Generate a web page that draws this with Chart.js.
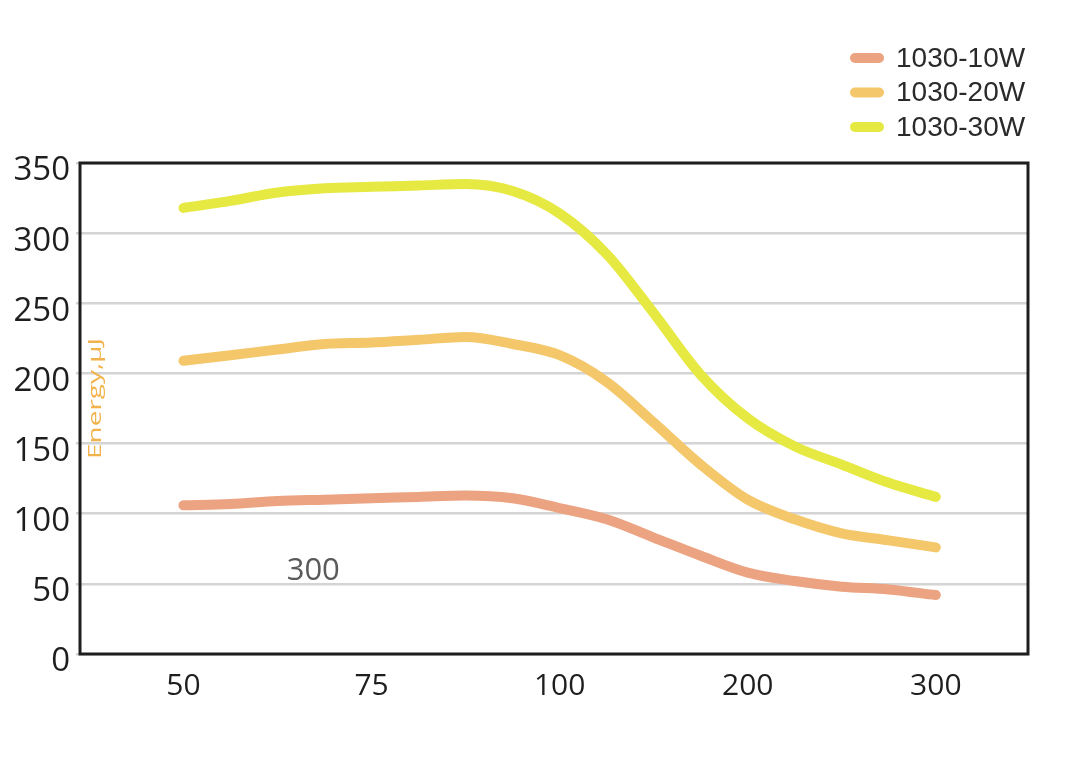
<!DOCTYPE html>
<html>
<head>
<meta charset="utf-8">
<script src="https://cdn.jsdelivr.net/npm/chart.js@4"></script>
<style>
  body { margin: 0; background: #fff; }
  #wrap { width: 1071px; height: 771px; position: relative; }
</style>
</head>
<body>
<div id="wrap"><canvas id="chart"></canvas></div>
<script>
"use strict";

// categories on the x axis (frequency) and y ticks
const categories = ["50", "75", "100", "200", "300"];
const yTicks = [0, 50, 100, 150, 200, 250, 300, 350];

// sample positions along the x axis, in category steps (0 = "50", 4 = "300")
const samplePos = [0, 0.25, 0.5, 0.75, 1, 1.25, 1.5, 1.75, 2, 2.25, 2.5, 2.75, 3, 3.25, 3.5, 3.75, 4];

// energy values, µJ
const energy10W = [106, 107, 109, 110, 111, 112, 113, 111, 104, 96, 83, 70, 58, 52, 48, 46, 42];
const energy20W = [209, 213, 217, 221, 222, 224, 226, 221, 213, 194, 165, 135, 110, 96, 86, 81, 76];
const energy30W = [318, 323, 329, 332, 333, 334, 335, 330, 314, 285, 243, 199, 168, 148, 135, 122, 112];

const seriesNames = ["1030-10W", "1030-20W", "1030-30W"];
const seriesColors = ["#eca381", "#f4c76a", "#e5e942"];

function toPoints(values) {
  let pts = [];
  for (let i = 0; i < values.length; i++) {
    pts.push({ x: samplePos[i], y: values[i] });
  }
  return pts;
}

const allSeries = [energy10W, energy20W, energy30W];
const datasets = [];
for (let i = 0; i < allSeries.length; i++) {
  datasets.push({
    label: seriesNames[i],
    data: toPoints(allSeries[i]),
    borderColor: seriesColors[i],
    backgroundColor: seriesColors[i],
    borderWidth: 10,
    borderCapStyle: "round",
    borderJoinStyle: "round",
    pointRadius: 0,
    cubicInterpolationMode: "monotone",
    fill: false,
  });
}

// frame round the plot, the legend and the loose texts
const extras = {
  id: "extras",
  afterDatasetsDraw(chart) {
    const ctx = chart.ctx;
    const area = chart.chartArea;
    const xs = chart.scales.x;
    const ys = chart.scales.y;
    ctx.save();

    // box
    ctx.strokeStyle = "#1e1e1e";
    ctx.lineWidth = 3;
    ctx.strokeRect(area.left, area.top, area.right - area.left, area.bottom - area.top);

    // axis name, stretched like the original
    ctx.save();
    ctx.translate(area.left + 16, (area.top + area.bottom) / 2 - 10);
    ctx.rotate(-Math.PI / 2);
    ctx.scale(1.55, 1);
    ctx.fillStyle = "#f2b24c";
    ctx.font = "18px 'Open Sans'";
    ctx.textAlign = "center";
    ctx.textBaseline = "middle";
    ctx.fillText("Energy,μJ", 0, 0);
    ctx.restore();

    // stray label inside the plot
    ctx.fillStyle = "#5a5a5a";
    ctx.font = "31px 'Open Sans'";
    ctx.textAlign = "center";
    ctx.textBaseline = "middle";
    ctx.fillText("300", xs.getPixelForValue(0.69), ys.getPixelForValue(59));

    // legend, top right
    const ds = chart.data.datasets;
    ctx.font = "28px 'Liberation Sans', Arial, sans-serif";
    ctx.textAlign = "left";
    ctx.lineCap = "round";
    for (let i = 0; i < ds.length; i++) {
      const y = 58 + i * 34.5;
      ctx.strokeStyle = ds[i].borderColor;
      ctx.lineWidth = 10;
      ctx.beginPath();
      ctx.moveTo(855, y);
      ctx.lineTo(879, y);
      ctx.stroke();
      ctx.fillStyle = "#2a2a2a";
      ctx.fillText(ds[i].label, 896, y + 1);
    }
    ctx.restore();
  },
};

const config = {
  type: "line",
  data: { datasets: datasets },
  options: {
    responsive: true,
    maintainAspectRatio: false,
    animation: false,
    layout: { padding: { top: 163, right: 43, left: 0, bottom: 0 } },
    plugins: {
      legend: { display: false },
      tooltip: { enabled: false },
    },
    scales: {
      x: {
        type: "linear",
        min: -0.55,
        max: 4.49,
        afterBuildTicks: (scale) => {
          scale.ticks = categories.map((c, i) => ({ value: i }));
        },
        afterFit: (scale) => {
          scale.height = 117;
        },
        grid: { display: false, drawTicks: false },
        border: { display: false },
        ticks: {
          padding: 14,
          color: "#1e1e1e",
          font: { family: "'Open Sans'", size: 30 },
          callback: (v) => categories[v],
        },
      },
      y: {
        min: 0,
        max: 350,
        afterBuildTicks: (scale) => {
          scale.ticks = yTicks.map((v) => ({ value: v }));
        },
        afterFit: (scale) => {
          scale.width = 80;
        },
        grid: { color: "#d4d4d4", lineWidth: 2.5, tickLength: 4 },
        border: { display: false },
        ticks: {
          padding: 6,
          labelOffset: 8,
          color: "#1e1e1e",
          font: { family: "'Open Sans'", size: 33 },
        },
      },
    },
  },
  plugins: [extras],
};

const energyChart = new Chart(document.getElementById("chart"), config);
</script>
</body>
</html>
